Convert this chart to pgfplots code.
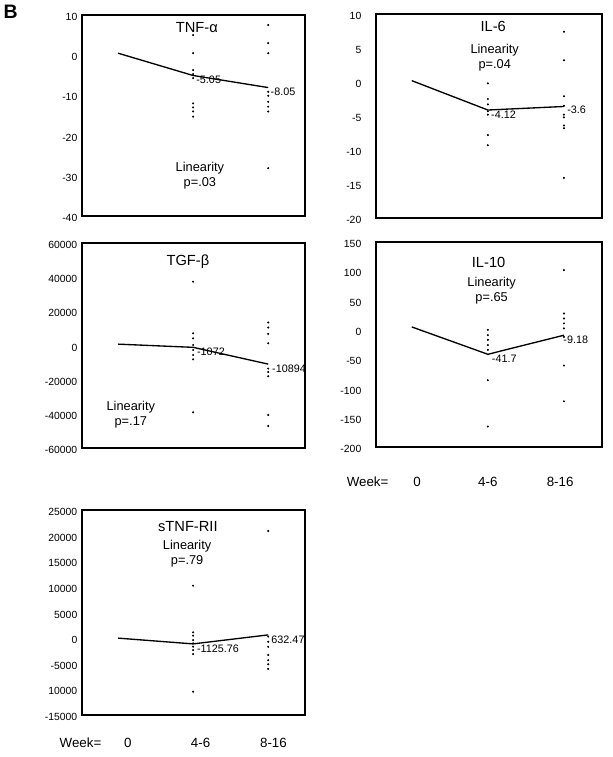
\documentclass[border=0pt]{standalone}
\usepackage{pgfplots}
\pgfplotsset{compat=1.18}
\usepackage{fontspec}
\setmainfont{Liberation Sans}
\newcommand\fs[1]{\fontsize{#1}{1.2\dimexpr#1pt\relax}\selectfont}
\pgfplotsset{
  panel/.style={
    scale only axis,
    clip=false,
    axis line style={line width=0.9pt, black},
    xtick=\empty,
    major tick length=0pt,
    scaled y ticks=false,
    /pgf/number format/assume math mode=true,
    /pgf/number format/set thousands separator={},
    yticklabel style={font=\fs{7.8}, yshift=-1.5pt},
  },
  lpanel/.style={panel, width=167.25pt, xmin=-0.48, xmax=2.49},
  rpanel/.style={panel, width=169.5pt, xmin=-0.47, xmax=2.5,
    yticklabel style={xshift=-7.5pt}},
  meanline/.style={black, line width=1pt, no marks},
  dots/.style={only marks, mark=*, mark size=0.55pt, black},
}
\tikzset{
  ttl/.style={font=\fs{11}},
  lin/.style={font=\fontsize{9.6}{11.3}\selectfont, align=center},
  val/.style={font=\fs{8.1}, anchor=west, inner sep=0pt},
  wk/.style={font=\fs{10}},
}
\begin{document}
\begin{tikzpicture}
\path[use as bounding box] (0,0) rectangle (459pt,-567.75pt);
\node[anchor=north west, inner sep=0pt, font=\fs{14.6}\bfseries] at (2.5pt,-4pt) {B};

% TNF-alpha
\begin{axis}[lpanel, at={(61.5pt,-11.25pt)}, anchor=north west, height=150.75pt,
  ymin=-40, ymax=10, ytick={-40,-30,...,10}]
\addplot[meanline] coordinates {(0,0.5) (1,-5.05) (2,-8.05)};
\addplot[dots] coordinates {(1,5) (1,0.5) (1,-3.7) (1,-4.7) (1,-5.7) (1,-12) (1,-13) (1,-14) (1,-15.3)
 (2,7.5) (2,3.0) (2,0.5) (2,-9.1) (2,-10.1) (2,-11.6) (2,-12.8) (2,-14.0) (2,-28.1)};
\node[ttl] at (axis cs:1.05,7) {TNF-α};
\node[lin] at (axis cs:1.09,-29.9) {Linearity\\p=.03};
\node[val] at (axis cs:1.04,-6) {-5.05};
\node[val] at (axis cs:2.03,-9.1) {-8.05};
\end{axis}

% IL-6
\begin{axis}[rpanel, at={(282pt,-10.5pt)}, anchor=north west, height=153pt,
  ymin=-20, ymax=10, ytick={-20,-15,...,10}]
\addplot[meanline] coordinates {(0,0.2) (1,-4.12) (2,-3.6)};
\addplot[dots] coordinates {(1,-0.2) (1,-2.5) (1,-3.3) (1,-4.3) (1,-4.8) (1,-7.8) (1,-9.3)
 (2,7.4) (2,3.2) (2,-2.1) (2,-3.5) (2,-4.8) (2,-5.2) (2,-6.4) (2,-6.8) (2,-14.1)};
\node[ttl] at (axis cs:1.07,8.1) {IL-6};
\node[lin] at (axis cs:1.09,3.6) {Linearity\\p=.04};
\node[val] at (axis cs:1.04,-4.85) {-4.12};
\node[val] at (axis cs:2.04,-4.1) {-3.6};
\end{axis}

% TGF-beta
\begin{axis}[lpanel, at={(61.5pt,-182.25pt)}, anchor=north west, height=153.75pt,
  ymin=-60000, ymax=60000, ytick={-60000,-40000,...,60000}]
\addplot[meanline] coordinates {(0,800) (1,-1072) (2,-10894)};
\addplot[dots] coordinates {(1,37350) (1,7140) (1,4210) (1,300) (1,-2630) (1,-5560) (1,-8080) (1,-39100)
 (2,13500) (2,10500) (2,6800) (2,1300) (2,-13500) (2,-15500) (2,-18000) (2,-40700) (2,-47100)};
\node[ttl] at (axis cs:0.93,48900) {TGF-β};
\node[lin] at (axis cs:0.17,-40400) {Linearity\\p=.17};
\node[val] at (axis cs:1.05,-3600) {-1072};
\node[val] at (axis cs:2.05,-13400) {-10894};
\end{axis}

% IL-10
\begin{axis}[rpanel, at={(282pt,-181.5pt)}, anchor=north west, height=153.75pt,
  ymin=-200, ymax=150, ytick={-200,-150,...,150}]
\addplot[meanline] coordinates {(0,5) (1,-41.7) (2,-9.18)};
\addplot[dots] coordinates {(1,0) (1,-9) (1,-17) (1,-26) (1,-34) (1,-86) (1,-165)
 (2,102) (2,28) (2,19.5) (2,11) (2,2.5) (2,-12) (2,-61) (2,-122)};
\node[ttl] at (axis cs:1.01,115.8) {IL-10};
\node[lin] at (axis cs:1.05,67.5) {Linearity\\p=.65};
\node[val] at (axis cs:1.05,-49.7) {-41.7};
\node[val] at (axis cs:1.99,-17.3) {-9.18};
\node[wk] at (axis cs:-0.58,-259) {Week=};
\node[wk] at (axis cs:0.07,-259) {0};
\node[wk] at (axis cs:1.0,-259) {4-6};
\node[wk] at (axis cs:1.95,-259) {8-16};
\end{axis}

% sTNF-RII
\begin{axis}[lpanel, at={(61.5pt,-382.5pt)}, anchor=north west, height=153.75pt,
  ymin=-15000, ymax=25000, ytick={-15000,-10000,...,25000},
  yticklabels={-15000,10000,-5000,0,5000,10000,15000,20000,25000}]
\addplot[meanline] coordinates {(0,0) (1,-1125.76) (2,632.47)};
\addplot[dots] coordinates {(1,10240) (1,1130) (1,480) (1,-370) (1,-1000) (1,-1670) (1,-2320) (1,-3100) (1,-10450)
 (2,20900) (2,300) (2,-700) (2,-1700) (2,-3300) (2,-4300) (2,-5100) (2,-6000)};
\node[ttl] at (axis cs:0.93,21740) {sTNF-RII};
\node[lin] at (axis cs:0.92,16500) {Linearity\\p=.79};
\node[val] at (axis cs:1.05,-2000) {-1125.76};
\node[val] at (axis cs:2.04,-360) {632.47};
\node[wk] at (axis cs:-0.5,-20460) {Week=};
\node[wk] at (axis cs:0.13,-20460) {0};
\node[wk] at (axis cs:1.1,-20460) {4-6};
\node[wk] at (axis cs:2.07,-20460) {8-16};
\end{axis}
\end{tikzpicture}
\end{document}
